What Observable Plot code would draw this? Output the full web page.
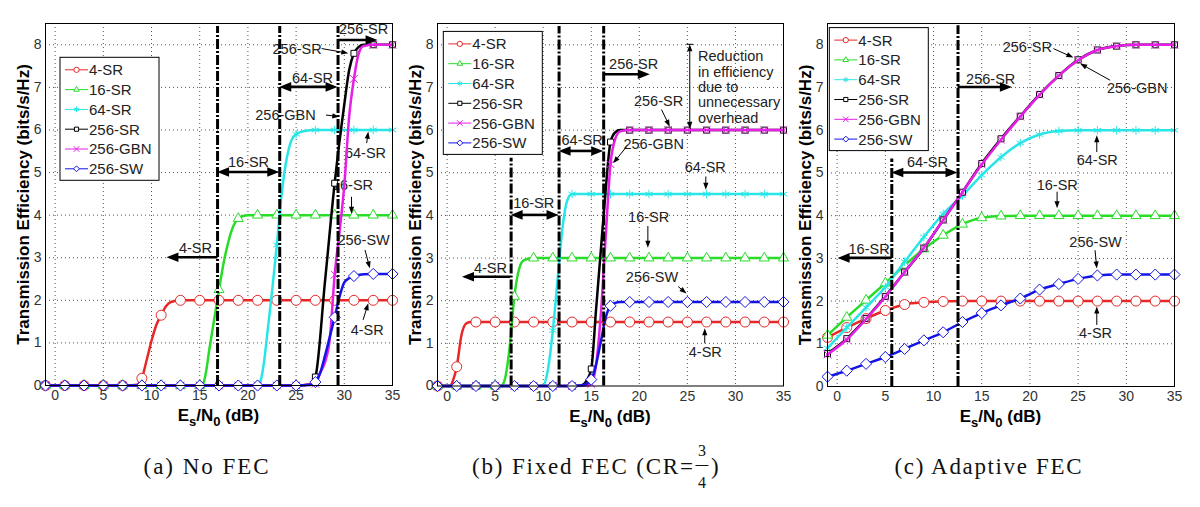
<!DOCTYPE html>
<html><head><meta charset="utf-8">
<script src="https://cdn.jsdelivr.net/npm/d3@7"></script>
<script src="https://cdn.jsdelivr.net/npm/@observablehq/plot@0.6"></script>
<style>
body{margin:0;background:#fff;width:1200px;height:507px;overflow:hidden;position:relative;font-family:"Liberation Sans",Arial,sans-serif}
.panel{position:absolute;top:0}
#cap{position:absolute;left:0;top:0}
</style></head><body>
<div id="pa" class="panel" style="left:0px"></div>
<div id="pb" class="panel" style="left:392px"></div>
<div id="pc" class="panel" style="left:782px"></div>
<svg id="cap" width="1200" height="507"></svg>
<script>
// ---------- shared ----------
const seriesNames = ["4-SR","16-SR","64-SR","256-SR","256-GBN","256-SW"];
const markerX = [-1,1,3,5,7,9,11,13,15,17,19,21,23,25,27,29,31,33,35];
const xTicks = [0,5,10,15,20,25,30,35];
const yTicks = [0,1,2,3,4,5,6,7,8];
const yLabel = "Transmission Efficiency (bits/s/Hz)";

// ---------- (a) No FEC ----------
const a4SR    = [0,0,0,0,0,0.17,1.65,2,2,2,2,2,2,2,2,2,2,2,2];
const a16SR   = [0,0,0,0,0,0,0,0,0,2.25,3.92,4,4,4,4,4,4,4,4];
const a64SR   = [0,0,0,0,0,0,0,0,0,0,0,0,3.3,5.9,6,6,6,6,6];
const a256SR  = [0,0,0,0,0,0,0,0,0,0,0,0,0,0,0.2,4.75,7.8,8,8];
const a256GBN = [0,0,0,0,0,0,0,0,0,0,0,0,0,0,0.04,2.6,7.2,8,8];
const a256SW  = [0,0,0,0,0,0,0,0,0,0,0,0,0,0,0.08,1.6,2.57,2.62,2.62];
const aX4SR    = [[8.5,0.02],[9.5,0.6],[10,1.05],[10.5,1.42],[11.5,1.86],[12,1.96]];
const aX16SR   = [[15.3,0.02],[15.6,0.25],[16,0.85],[16.5,1.55],[17.5,2.9],[18,3.4],[18.5,3.75],[19.5,3.98],[20,4]];
const aX64SR   = [[21.3,0.1],[21.7,0.6],[22,1.2],[22.5,2.2],[23.5,4.5],[24,5.3],[24.5,5.75],[26,5.98]];
const aX256SR  = [[26.5,0.03],[28,2.45],[30,6.6],[30.5,7.4],[31.5,7.95],[32,8]];
const aX256GBN = [[27.5,0.3],[28,0.55],[28.5,1.1],[29.5,3.6],[30,4.7],[30.5,6.3],[31.5,7.8],[32,7.97]];
const aX256SW  = [[26.5,0.01],[27.5,0.3],[28,0.7],[28.5,1.15],[29.5,2.08],[30,2.42],[30.5,2.52],[32,2.61]];
const aVlines = [[16.85,0,8.43],[23.3,0,8.43],[29.35,0,8.43]];
const aLabels = [["4-SR",14.56,3.22],["16-SR",20.06,5.24],["64-SR",26.7,7.21],["256-SR",32.0,8.36],
  ["256-SR",25.1,7.9],["256-GBN",23.9,6.34],["64-SR",32.2,5.44],["16-SR",30.85,4.7],["256-SW",32.0,3.4],["4-SR",32.37,1.29]];
const aArrows = [[16.85,3.0,11.6,3.0,"T"],[16.85,5.0,23.3,5.0,"TD"],[23.3,7.0,29.35,7.0,"TD"],[29.35,8.1,33.5,8.1,"T"],
  [27.7,7.9,30.47,7.79,"t"],[28.15,6.34,29.53,6.3,"t"],[32.37,5.68,32.54,5.95,"t"],[30.8,4.42,30.8,4.02,"t"],
  [32.2,3.17,32.7,2.74,"t"],[32.0,1.53,32.54,1.92,"t"]];

// ---------- (b) Fixed FEC ----------
const b4SR    = [0,0.45,1.5,1.5,1.5,1.5,1.5,1.5,1.5,1.5,1.5,1.5,1.5,1.5,1.5,1.5,1.5,1.5,1.5];
const b16SR   = [0,0,0,0,2.1,3,3,3,3,3,3,3,3,3,3,3,3,3,3];
const b64SR   = [0,0,0,0,0,0,1.3,4.5,4.5,4.5,4.5,4.5,4.5,4.5,4.5,4.5,4.5,4.5,4.5];
const b256SR  = [0,0,0,0,0,0,0,0,0.4,5.72,6,6,6,6,6,6,6,6,6];
const b256GBN = [0,0,0,0,0,0,0,0,0.05,5.2,6,6,6,6,6,6,6,6,6];
const b256SW  = [0,0,0,0,0,0,0,0,0.15,1.88,1.97,1.97,1.97,1.97,1.97,1.97,1.97,1.97,1.97];
const bX4SR    = [[0.3,0],[0.6,0.12],[1.5,1.2],[2,1.47],[2.5,1.5]];
const bX16SR   = [[5.6,0],[6,0.15],[6.5,0.9],[7.5,2.75],[8,2.95]];
const bX64SR   = [[10,0.02],[10.5,0.4],[11.5,2.5],[12,3.7],[12.5,4.35]];
const bX256SR  = [[14,0.02],[14.5,0.12],[15.5,1.8],[16,3.2],[16.5,4.6],[17.5,5.95],[18,6]];
const bX256GBN = [[14.5,0.01],[15.5,0.5],[16,1.7],[16.5,3.5],[17.5,5.8],[18,5.97]];
const bX256SW  = [[14,0.01],[14.5,0.05],[15.5,0.5],[16,1.05],[16.5,1.6],[17.5,1.95],[18,1.97]];
const bVlines = [[6.66,0,5.34],[11.65,0,8.43],[16.29,0,8.43]];
const bLabels = [["4-SR",4.51,2.77],["16-SR",9.01,4.28],["64-SR",14.04,5.76],["256-SR",19.41,7.55],
  ["256-SR",22.0,6.68],["256-GBN",21.49,5.67],["64-SR",26.86,5.13],["16-SR",20.97,3.96],["256-SW",21.32,2.55],["4-SR",26.86,0.79]];
const bNote = [["Reduction",26.1,7.73],["in efficiency",26.1,7.36],["due to",26.1,7.0],["unnecessary",26.1,6.64],["overhead",26.1,6.27]];
const bArrows = [[6.59,2.55,1.6,2.55,"T"],[6.66,4.0,11.65,4.0,"TD"],[11.65,5.5,16.29,5.5,"TD"],[16.29,7.3,21.14,7.3,"T"],
  [22.36,6.47,23.22,6.07,"t"],[18.72,5.6,17.33,5.21,"t"],[26.97,4.9,26.97,4.59,"t"],[20.94,3.74,20.94,3.23,"t"],
  [24.09,2.32,24.96,2.16,"t"],[26.86,0.99,26.86,1.34,"t"],[25.3,8.0,25.3,6.02,"tD"],[24.95,8.0,25.65,8.0,"l"]];

// ---------- (c) Adaptive FEC ----------
const c4SR    = [1.15,1.38,1.59,1.78,1.92,1.97,1.99,2,2,2,2,2,2,2,2,2,2,2,2];
const c16SR   = [1.2,1.62,2.02,2.42,2.84,3.22,3.54,3.8,3.95,3.99,4,4,4,4,4,4,4,4,4];
const c64SR   = [0.9,1.38,1.85,2.33,2.92,3.5,4.04,4.47,4.95,5.37,5.7,5.9,5.98,6,6,6,6,6,6];
const c256SR  = [0.77,1.12,1.59,2.11,2.68,3.24,3.9,4.55,5.22,5.8,6.33,6.84,7.28,7.65,7.88,7.97,8,8,8];
const c256GBN = [0.75,1.1,1.58,2.1,2.68,3.25,3.9,4.55,5.2,5.78,6.32,6.83,7.28,7.64,7.88,7.97,8,8,8];
const c256SW  = [0.23,0.37,0.53,0.69,0.88,1.08,1.27,1.51,1.72,1.9,2.06,2.27,2.4,2.52,2.6,2.62,2.62,2.62,2.62];
const cVlines = [[5.67,0,5.33],[12.54,0,8.45]];
const cLabels = [["16-SR",3.31,3.2],["64-SR",9.37,5.25],["256-SR",15.93,7.2],["256-SR",19.73,7.94],["256-GBN",31.13,6.97],
  ["64-SR",26.99,5.29],["16-SR",22.84,4.7],["256-SW",26.81,3.38],["4-SR",26.81,1.25]];
const cArrows = [[5.67,3.0,0.1,3.0,"T"],[5.67,5.0,12.54,5.0,"TD"],[12.54,7.0,18.18,7.0,"T"],
  [22.49,7.9,24.56,7.69,"t"],[28.37,7.16,25.26,7.55,"t"],[26.99,5.48,26.99,5.87,"t"],[22.87,4.55,22.87,4.16,"t"],
  [26.81,3.18,26.99,2.75,"t"],[26.99,1.43,26.99,1.86,"t"]];

// ---------- styles ----------
const seriesColors = ["#e62828","#28dc28","#28e6e6","#000000","#e61ee6","#1414e6"];
const seriesSymbols = ["circle","triangle2","asterisk","square2","times","diamond2"];
const d3Symbols = [d3.symbolCircle,d3.symbolTriangle2,d3.symbolAsterisk,d3.symbolSquare2,d3.symbolTimes,d3.symbolDiamond2];
const symbolR = [5,4.8,4,3.8,3.6,5];
const symbolFill = ["white","white","none","white","none","white"];
const FONT = "'Liberation Sans', Arial, Helvetica, sans-serif";

function arrowMark(list) {
  return (index, scales) => {
    const g = d3.create("svg:g");
    for (const a of list) {
      const x1 = scales.x(a[0]), y1 = scales.y(a[1]), x2 = scales.x(a[2]), y2 = scales.y(a[3]);
      const type = a[4];
      if (type === "l") {
        g.append("line").attr("x1",x1).attr("y1",y1).attr("x2",x2).attr("y2",y2).attr("stroke","#000").attr("stroke-width",1);
        continue;
      }
      const thick = type[0] === "T", dbl = type[1] === "D";
      const sw = thick ? 2.6 : 1, hl = thick ? 12 : 7, hw = thick ? 4.8 : 2.6;
      const L = Math.hypot(x2-x1, y2-y1), ux = (x2-x1)/L, uy = (y2-y1)/L;
      const sx = dbl ? x1 + ux*hl*0.7 : x1, sy = dbl ? y1 + uy*hl*0.7 : y1;
      const ex = x2 - ux*hl*0.7, ey = y2 - uy*hl*0.7;
      g.append("line").attr("x1",sx).attr("y1",sy).attr("x2",ex).attr("y2",ey).attr("stroke","#000").attr("stroke-width",sw);
      const head = (tx, ty, vx, vy) => {
        const bx = tx - vx*hl, by = ty - vy*hl;
        g.append("path").attr("d", `M${tx},${ty}L${bx - vy*hw},${by + vx*hw}L${bx + vy*hw},${by - vx*hw}Z`).attr("fill","#000");
      };
      head(x2, y2, ux, uy);
      if (dbl) head(x1, y1, -ux, -uy);
    }
    return g.node();
  };
}

function legendMark(off) {
  return (index, scales, values, dims) => {
    const g = d3.create("svg:g");
    const x0 = dims.marginLeft + off[0], y0 = dims.marginTop + off[1];
    g.append("rect").attr("x",x0).attr("y",y0).attr("width",99).attr("height",123)
      .attr("fill","white").attr("stroke","#000").attr("stroke-width",1);
    seriesNames.forEach((n, i) => {
      const cy = y0 + 12.5 + 19.8*i;
      g.append("line").attr("x1",x0+5).attr("x2",x0+28).attr("y1",cy).attr("y2",cy)
        .attr("stroke",seriesColors[i]).attr("stroke-width",1);
      g.append("path").attr("d", d3.symbol(d3Symbols[i], 22)()).attr("transform",`translate(${x0+16.5},${cy})`)
        .attr("stroke",seriesColors[i]).attr("fill", symbolFill[i]).attr("stroke-width",1);
      g.append("text").attr("x",x0+29).attr("y",cy).attr("dy","0.36em").attr("font-size",15)
        .attr("text-anchor","start").attr("fill","#222").attr("font-family",FONT).text(n);
    });
    return g.node();
  };
}

function xLabelMark() {
  return (index, scales, values, dims) => {
    const cx = dims.marginLeft + (dims.width - dims.marginLeft - dims.marginRight)/2;
    const y = dims.height - dims.marginBottom + 36;
    const t = d3.create("svg:text").attr("x",cx).attr("y",y).attr("text-anchor","middle")
      .attr("font-size",17).attr("font-weight","bold").attr("fill","#000").attr("font-family",FONT);
    t.append("tspan").text("E");
    t.append("tspan").attr("dy",5).attr("font-size",13).text("s");
    t.append("tspan").attr("dy",-5).text("/N");
    t.append("tspan").attr("dy",5).attr("font-size",13).text("0");
    t.append("tspan").attr("dy",-5).text(" (dB)");
    return t.node();
  };
}

function panel(el, cfg) {
  const marks = [];
  marks.push(Plot.text(cfg.labels, {x: d => d[1], y: d => d[2], text: d => d[0], fontSize: 14.5, fill: "#222"}));
  if (cfg.note) marks.push(Plot.text(cfg.note, {x: d => d[1], y: d => d[2], text: d => d[0], fontSize: 14.5, fill: "#222", textAnchor: "start"}));
  marks.push(Plot.ruleX(xTicks, {stroke: "#000", strokeWidth: 0.8, strokeDasharray: "1,3", strokeOpacity: 0.85}));
  marks.push(Plot.ruleY(yTicks.filter(v => v > 0), {stroke: "#000", strokeWidth: 0.8, strokeDasharray: "1,3", strokeOpacity: 0.85}));
  cfg.series.forEach((ys, i) => {
    const pts = markerX.map((x, j) => ({x, y: ys[j]}));
    const line = pts.concat((cfg.extras ? cfg.extras[i] : []).map(([x, y]) => ({x, y}))).sort((p, q) => p.x - q.x);
    marks.push(Plot.line(line, {x: "x", y: "y", stroke: seriesColors[i], strokeWidth: 2.5, curve: "monotone-x"}));
    marks.push(Plot.dot(pts, {x: "x", y: "y", symbol: seriesSymbols[i], r: symbolR[i], stroke: seriesColors[i], fill: symbolFill[i], strokeWidth: 1}));
  });
  marks.push(Plot.ruleX(cfg.vlines, {x: d => d[0], y1: d => d[1], y2: d => d[2], stroke: "#000", strokeWidth: 3, strokeDasharray: "10,2,2,2"}));
  marks.push(arrowMark(cfg.arrows));
  marks.push(Plot.frame({stroke: "#000", strokeWidth: 1}));
  marks.push(Plot.axisX(xTicks, {tickSize: 0, tickPadding: 5, fontSize: 14, fill: "#333", label: null}));
  marks.push(Plot.axisY(yTicks, {tickSize: 0, tickPadding: 4, fontSize: 14, fill: "#333", label: null}));
  marks.push(Plot.text([yLabel], {text: d => d, frameAnchor: "left", textAnchor: "middle", dx: -22, rotate: -90, fontSize: 17, fontWeight: "bold", fill: "#000"}));
  marks.push(xLabelMark());
  marks.push(legendMark(cfg.legend));
  const p = Plot.plot({
    width: cfg.width, height: 430,
    marginLeft: 45, marginRight: 10, marginTop: 23, marginBottom: cfg.mb,
    x: {domain: [-1, 35]}, y: {domain: [0, 8.5]},
    style: {fontFamily: FONT, background: "transparent", overflow: "visible"},
    marks
  });
  document.getElementById(el).appendChild(p);
}

panel("pa", {width: 402, mb: 45, series: [a4SR,a16SR,a64SR,a256SR,a256GBN,a256SW],
  extras: [aX4SR,aX16SR,aX64SR,aX256SR,aX256GBN,aX256SW], vlines: aVlines, labels: aLabels, arrows: aArrows, legend: [15, 34.3]});
panel("pb", {width: 401, mb: 44.5, series: [b4SR,b16SR,b64SR,b256SR,b256GBN,b256SW],
  extras: [bX4SR,bX16SR,bX64SR,bX256SR,bX256GBN,bX256SW], vlines: bVlines, labels: bLabels, note: bNote, arrows: bArrows, legend: [6.3, 8.4]});
panel("pc", {width: 402, mb: 44, series: [c4SR,c16SR,c64SR,c256SR,c256GBN,c256SW],
  vlines: cVlines, labels: cLabels, arrows: cArrows, legend: [2.3, 4.6]});

// ---------- captions ----------
const cap = d3.select("#cap");
const SERIF = "'Liberation Serif', 'DejaVu Serif', serif";
cap.append("text").attr("x",206).attr("y",474).attr("text-anchor","middle").attr("textLength",125).attr("lengthAdjust","spacing")
  .attr("font-family",SERIF).attr("font-size",23).attr("fill","#111").text("(a) No FEC");
cap.append("text").attr("x",472).attr("y",474).attr("textLength",221).attr("lengthAdjust","spacing")
  .attr("font-family",SERIF).attr("font-size",23).attr("fill","#111").text("(b) Fixed FEC (CR=");
cap.append("text").attr("x",702).attr("y",456).attr("text-anchor","middle").attr("font-family",SERIF).attr("font-size",16).attr("fill","#111").text("3");
cap.append("line").attr("x1",695.5).attr("x2",708.5).attr("y1",465.5).attr("y2",465.5).attr("stroke","#111").attr("stroke-width",1);
cap.append("text").attr("x",702).attr("y",488).attr("text-anchor","middle").attr("font-family",SERIF).attr("font-size",16).attr("fill","#111").text("4");
cap.append("text").attr("x",711).attr("y",474).attr("font-family",SERIF).attr("font-size",23).attr("fill","#111").text(")");
cap.append("text").attr("x",988).attr("y",474).attr("text-anchor","middle").attr("textLength",187).attr("lengthAdjust","spacing")
  .attr("font-family",SERIF).attr("font-size",23).attr("fill","#111").text("(c) Adaptive FEC");
</script>
</body></html>
